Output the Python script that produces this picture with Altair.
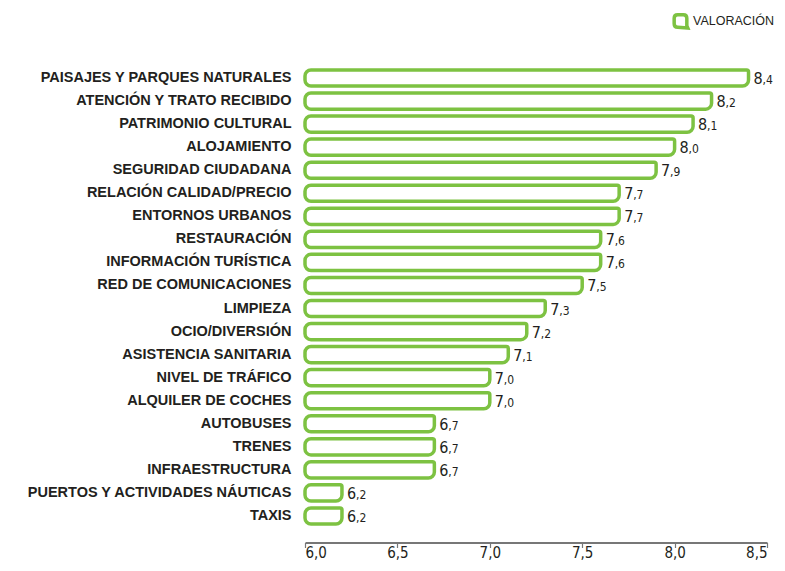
import altair as alt
import pandas as pd

categories = [
    "PAISAJES Y PARQUES NATURALES", "ATENCIÓN Y TRATO RECIBIDO", "PATRIMONIO CULTURAL",
    "ALOJAMIENTO", "SEGURIDAD CIUDADANA", "RELACIÓN CALIDAD/PRECIO", "ENTORNOS URBANOS",
    "RESTAURACIÓN", "INFORMACIÓN TURÍSTICA", "RED DE COMUNICACIONES", "LIMPIEZA",
    "OCIO/DIVERSIÓN", "ASISTENCIA SANITARIA", "NIVEL DE TRÁFICO", "ALQUILER DE COCHES",
    "AUTOBUSES", "TRENES", "INFRAESTRUCTURA", "PUERTOS Y ACTIVIDADES NÁUTICAS", "TAXIS",
]
values = [8.4, 8.2, 8.1, 8.0, 7.9, 7.7, 7.7, 7.6, 7.6, 7.5, 7.3, 7.2, 7.1, 7.0, 7.0,
          6.7, 6.7, 6.7, 6.2, 6.2]
x_ticks = [6.0, 6.5, 7.0, 7.5, 8.0, 8.5]
series_name = "VALORACIÓN"

GREEN = "#7dc242"
TEXT = "#231f20"
NARROW = "DejaVu Sans Condensed, sans-serif"

df = pd.DataFrame({"cat": categories, "val": values})
df["int_part"] = [f"{v:.1f}".split(".")[0] for v in values]
df["dec_part"] = ["," + f"{v:.1f}".split(".")[1] for v in values]
df["serie"] = series_name

bubble = ("M-0.45,-1 L0.45,-1 Q1,-1 1,-0.45 L1,0.75 L1.15,1.1 L-0.45,1 "
          "Q-1,1 -1,0.45 L-1,-0.45 Q-1,-1 -0.45,-1 Z")

y_enc = alt.Y(
    "cat:N", sort=categories, title=None,
    scale=alt.Scale(paddingInner=0.3, paddingOuter=0.15),
    axis=alt.Axis(domain=False, ticks=False, labelPadding=14, labelFont="Liberation Sans",
                  labelFontWeight="bold", labelFontSize=14.5, labelColor=TEXT, labelLimit=400),
)
x_scale = alt.Scale(domain=[6.0, 8.5], nice=False, zero=False)

bars = alt.Chart(df).mark_bar(
    filled=False, strokeWidth=3.5,
    cornerRadiusTopLeft=6, cornerRadiusBottomLeft=6,
    cornerRadiusBottomRight=6, cornerRadiusTopRight=2,
).encode(
    x=alt.X("val:Q", scale=x_scale, title=None,
            axis=alt.Axis(values=x_ticks, grid=False, offset=15,
                          labelExpr="replace(format(datum.value, '.1f'), '.', ',')",
                          domain=True, domainColor="#777777", domainWidth=2,
                          tickColor="#777777", tickSize=5, tickWidth=1.2,
                          labelFont=NARROW, labelFontSize=15, labelColor=TEXT,
                          labelBaseline="alphabetic", labelPadding=10)),
    x2=alt.datum(6.0),
    y=y_enc,
    stroke=alt.Stroke("serie:N", scale=alt.Scale(range=[GREEN]), title=None,
                      legend=alt.Legend(orient="none", legendX=367, legendY=-54,
                                        symbolType=bubble, symbolSize=160,
                                        symbolStrokeWidth=3.5, padding=0,
                                        labelFont="Liberation Sans", labelFontSize=12.5,
                                        labelColor=TEXT, labelOffset=4)),
)

ints = alt.Chart(df).mark_text(
    align="left", baseline="alphabetic", dx=5, dy=6, font=NARROW, fontSize=16, color=TEXT
).encode(x=alt.X("val:Q", scale=x_scale), y=alt.Y("cat:N", sort=categories), text="int_part:N")

decs = alt.Chart(df).mark_text(
    align="left", baseline="alphabetic", dx=14, dy=6, font=NARROW, fontSize=12, color=TEXT
).encode(x=alt.X("val:Q", scale=x_scale), y=alt.Y("cat:N", sort=categories), text="dec_part:N")

chart = alt.layer(bars, ints, decs).properties(
    width=462, height=461,
    autosize=alt.AutoSizeParams(type="none"),
    padding={"left": 297, "top": 58.5, "right": 10, "bottom": 35.5},
).configure_view(stroke=None)

chart.save("out.html", embed_options={"renderer": "svg", "actions": False})
